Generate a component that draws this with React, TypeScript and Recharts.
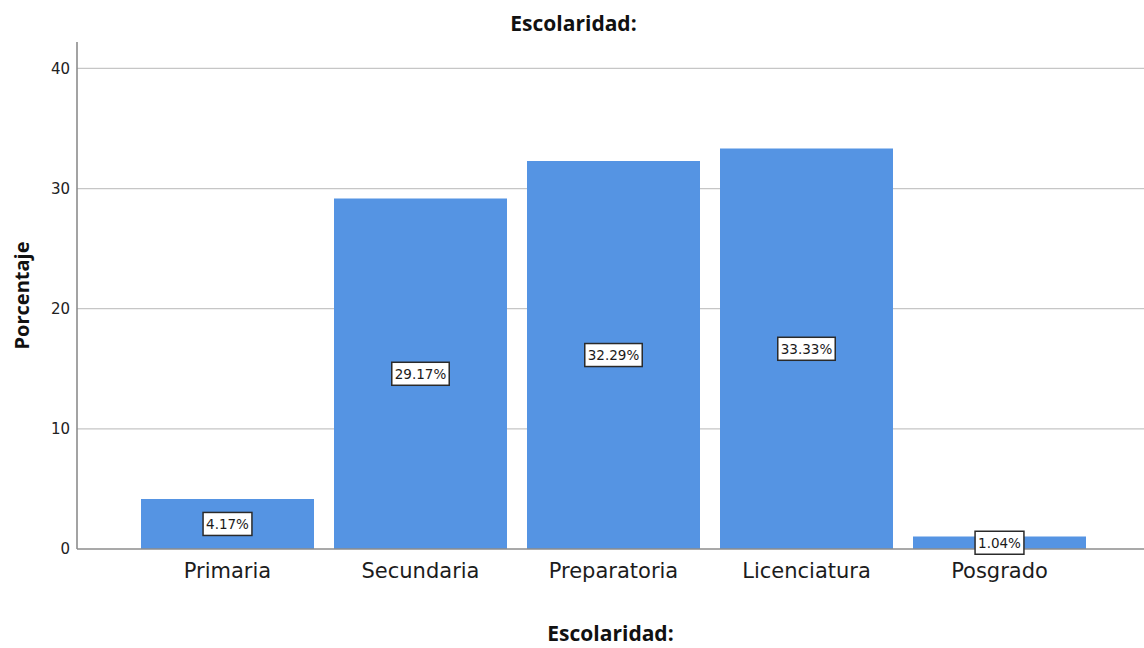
import React from "react";
import {
  BarChart,
  Bar,
  XAxis,
  YAxis,
  CartesianGrid,
  LabelList,
} from "recharts";

const categories = ["Primaria", "Secundaria", "Preparatoria", "Licenciatura", "Posgrado"];
const percents = [4.17, 29.17, 32.29, 33.33, 1.04];
const yTicks = [0, 10, 20, 30, 40];
const gridValues = [10, 20, 30, 40];

const data = categories.map((name, i) => ({ name, pct: percents[i] }));

const BAR_COLOR = "#5594e3";
const AXIS_COLOR = "#8c8c8c";
const GRID_COLOR = "#c6c6c6";
const FONT = "'DejaVu Sans', sans-serif";
const BOLD_FONT = "'Open Sans', 'DejaVu Sans', sans-serif";

// rough DejaVu Sans advance widths (em) for the characters used in the labels
function textWidth(s: string, size: number) {
  let w = 0;
  for (const ch of s) {
    if (ch === ".") w += 0.318;
    else if (ch === "%") w += 0.95;
    else w += 0.636;
  }
  return w * size;
}

function ValueBox(props: any) {
  const { x, y, width, height, value } = props;
  const text = `${Number(value).toFixed(2)}%`;
  const fs = 13.5;
  const w = textWidth(text, fs) + 6;
  const h = 23;
  const cx = x + width / 2;
  const cy = y + height / 2;
  return (
    <g>
      <rect
        x={cx - w / 2}
        y={cy - h / 2}
        width={w}
        height={h}
        fill="#ffffff"
        stroke="#2a2a2a"
        strokeWidth={1.5}
      />
      <text
        x={cx}
        y={cy}
        textAnchor="middle"
        dominantBaseline="central"
        fontFamily={FONT}
        fontSize={fs}
        fill="#1a1a1a"
      >
        {text}
      </text>
    </g>
  );
}

export default function App() {
  return (
    <div style={{ position: "absolute", left: 0, top: 0, width: 1144, height: 648, background: "#fff" }}>
      <div
        style={{
          position: "absolute",
          left: 0,
          top: 9,
          width: 1147,
          textAlign: "center",
          fontFamily: BOLD_FONT,
          fontWeight: 700,
          fontSize: 21,
          lineHeight: "28px",
          color: "#111",
        }}
      >
        Escolaridad:
      </div>
      <BarChart
        width={1144}
        height={648}
        data={data}
        margin={{ top: 42, right: 0, bottom: 0, left: 0 }}
        barCategoryGap={10}
      >
        <CartesianGrid
          vertical={false}
          horizontalValues={gridValues}
          stroke={GRID_COLOR}
          strokeWidth={1.3}
        />
        <XAxis
          dataKey="name"
          height={99}
          padding={{ left: 54, right: 48 }}
          tickLine={false}
          tickSize={0}
          tickMargin={14}
          axisLine={{ stroke: AXIS_COLOR, strokeWidth: 1.6 }}
          tick={{ fontFamily: FONT, fontSize: 21, fill: "#1c1c1c" }}
          label={{
            content: (p: any) => {
              const vb = p.viewBox;
              return (
                <text
                  x={vb.x + vb.width / 2}
                  y={vb.y + vb.height - 7}
                  textAnchor="middle"
                  fontFamily={BOLD_FONT}
                  fontWeight={700}
                  fontSize={21}
                  fill="#111"
                >
                  Escolaridad:
                </text>
              );
            },
          }}
        />
        <YAxis
          width={77}
          domain={[0, 42.2]}
          ticks={yTicks}
          tickLine={false}
          tickSize={0}
          tickMargin={7}
          axisLine={{ stroke: AXIS_COLOR, strokeWidth: 1.6 }}
          tick={{ fontFamily: FONT, fontSize: 15, fill: "#222" }}
          label={{
            content: (p: any) => {
              const vb = p.viewBox;
              const lx = 29;
              const ly = vb.y + vb.height / 2;
              return (
                <text
                  x={lx}
                  y={ly}
                  transform={`rotate(-90 ${lx} ${ly})`}
                  textAnchor="middle"
                  fontFamily={BOLD_FONT}
                  fontWeight={700}
                  fontSize={20}
                  fill="#111"
                >
                  Porcentaje
                </text>
              );
            },
          }}
        />
        <Bar dataKey="pct" fill={BAR_COLOR} isAnimationActive={false}>
          <LabelList dataKey="pct" content={ValueBox} />
        </Bar>
      </BarChart>
    </div>
  );
}
